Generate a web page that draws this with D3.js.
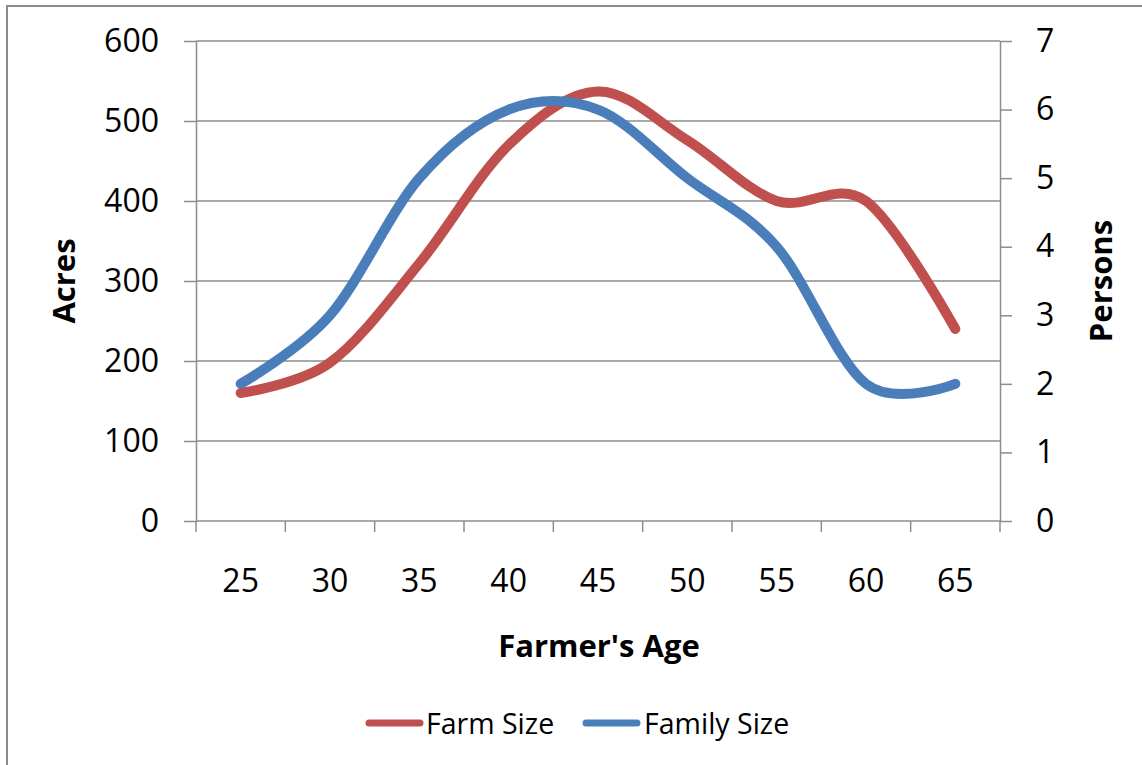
<!DOCTYPE html>
<html>
<head>
<meta charset="utf-8">
<script src="https://cdn.jsdelivr.net/npm/d3@7"></script>
<style>
  html, body { margin: 0; padding: 0; background: #fff; }
  svg { display: block; }
  text { font-family: "Open Sans", "Liberation Sans", sans-serif; fill: #000; }
</style>
</head>
<body>
<svg id="chart" width="1142" height="765"></svg>
<script>
const categories = ["25", "30", "35", "40", "45", "50", "55", "60", "65"];
const farmSize = [160, 198, 322, 470, 537, 476, 400, 400, 240];
const familySize = [2, 3, 5, 6, 6, 5, 4, 2, 2];
const leftTicks = [0, 100, 200, 300, 400, 500, 600];
const rightTicks = [0, 1, 2, 3, 4, 5, 6, 7];
const seriesNames = ["Farm Size", "Family Size"];
const seriesColors = ["#C0504D", "#4A7EBB"];

const svg = d3.select("#chart");
const W = 1142, H = 765;
const plot = { left: 196, right: 1000, top: 41, bottom: 521 };
const gridColor = "#8c8c8c";

svg.append("rect").attr("x", 0).attr("y", 0).attr("width", W).attr("height", H).attr("fill", "#fff");
svg.append("rect").attr("x", 7).attr("y", 6).attr("width", W + 20).attr("height", H + 20)
  .attr("fill", "#fff").attr("stroke", gridColor).attr("stroke-width", 2);

const x = d3.scaleBand().domain(categories).range([plot.left, plot.right]).padding(0);
const yL = d3.scaleLinear().domain([0, 600]).range([plot.bottom, plot.top]);
const yR = d3.scaleLinear().domain([0, 7]).range([plot.bottom, plot.top]);
const cx = c => x(c) + x.bandwidth() / 2;

// gridlines
svg.append("g").selectAll("line").data(leftTicks.filter(d => d > 0)).join("line")
  .attr("x1", plot.left).attr("x2", plot.right)
  .attr("y1", d => yL(d)).attr("y2", d => yL(d))
  .attr("stroke", gridColor).attr("stroke-width", 1.5);

// left axis
const gL = svg.append("g").attr("transform", `translate(${plot.left},0)`)
  .call(d3.axisLeft(yL).tickValues(leftTicks).tickFormat(d3.format("d")).tickSize(12).tickPadding(25).tickSizeOuter(0));
// right axis
const gR = svg.append("g").attr("transform", `translate(${plot.right},0)`)
  .call(d3.axisRight(yR).tickValues(rightTicks).tickFormat(d3.format("d")).tickSize(12).tickPadding(24).tickSizeOuter(0));
// bottom axis labels
const gB = svg.append("g").attr("transform", `translate(0,${plot.bottom})`)
  .call(d3.axisBottom(x).tickSize(0).tickPadding(48).tickSizeOuter(0));
gB.select(".domain").remove();
// bottom tick marks at category boundaries
const bounds = categories.map(c => x(c)).concat([x.range()[1]]);
svg.append("g").selectAll("line").data(bounds).join("line")
  .attr("x1", d => d).attr("x2", d => d)
  .attr("y1", plot.bottom).attr("y2", plot.bottom + 11)
  .attr("stroke", gridColor).attr("stroke-width", 1.5);
svg.append("line").attr("x1", plot.left).attr("x2", plot.right)
  .attr("y1", plot.bottom).attr("y2", plot.bottom)
  .attr("stroke", gridColor).attr("stroke-width", 1.5);

[gL, gR, gB].forEach(g => {
  g.selectAll(".domain").attr("stroke", gridColor).attr("stroke-width", 1.5);
  g.selectAll(".tick line").attr("stroke", gridColor).attr("stroke-width", 1.5);
  g.selectAll(".tick text").attr("font-size", 32).attr("font-family", "'Open Sans', sans-serif").attr("fill", "#000");
});

// lines
const curve = d3.curveCardinal.tension(0);
const lineL = d3.line().x((d, i) => cx(categories[i])).y(d => yL(d)).curve(curve);
const lineR = d3.line().x((d, i) => cx(categories[i])).y(d => yR(d)).curve(curve);
svg.append("path").attr("d", lineL(farmSize)).attr("fill", "none")
  .attr("stroke", seriesColors[0]).attr("stroke-width", 10)
  .attr("stroke-linecap", "round").attr("stroke-linejoin", "round");
svg.append("path").attr("d", lineR(familySize)).attr("fill", "none")
  .attr("stroke", seriesColors[1]).attr("stroke-width", 10)
  .attr("stroke-linecap", "round").attr("stroke-linejoin", "round");

// axis titles
svg.append("text").attr("transform", "translate(63,281) rotate(-90)")
  .attr("text-anchor", "middle").attr("dominant-baseline", "central")
  .attr("font-size", 31).attr("font-weight", "bold").text("Acres");
svg.append("text").attr("transform", "translate(1100,281) rotate(-90)")
  .attr("text-anchor", "middle").attr("dominant-baseline", "central")
  .attr("font-size", 31).attr("font-weight", "bold").text("Persons");
svg.append("text").attr("x", 599).attr("y", 645)
  .attr("text-anchor", "middle").attr("dominant-baseline", "central")
  .attr("font-size", 31).attr("font-weight", "bold").text("Farmer's Age");

// legend
const legendPos = [{ lx: 369, tx: 426 }, { lx: 586, tx: 644 }];
const lg = svg.append("g");
seriesNames.forEach((name, i) => {
  lg.append("line").attr("x1", legendPos[i].lx).attr("x2", legendPos[i].lx + 51)
    .attr("y1", 723).attr("y2", 723)
    .attr("stroke", seriesColors[i]).attr("stroke-width", 7).attr("stroke-linecap", "round");
  lg.append("text").attr("x", legendPos[i].tx).attr("y", 723)
    .attr("dominant-baseline", "central").attr("font-size", 28.5).text(name);
});
</script>
</body>
</html>
